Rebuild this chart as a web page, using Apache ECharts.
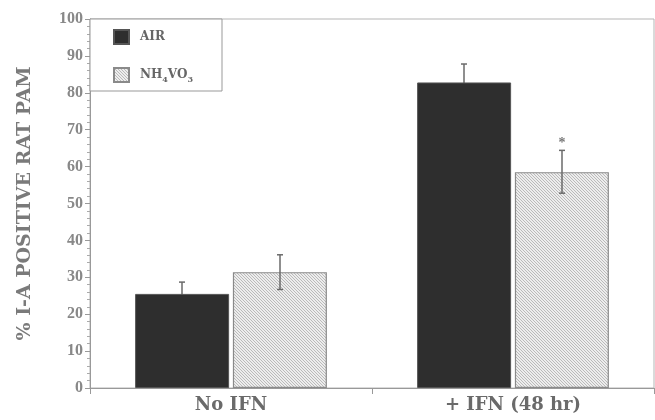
<!DOCTYPE html>
<html><head><meta charset="utf-8">
<script src="https://cdn.jsdelivr.net/npm/echarts@6/dist/echarts.min.js"></script>
<style>html,body{margin:0;padding:0;background:#fff}#c{width:655px;height:420px}</style>
</head><body><div id="c"></div>
<script>
var categories = ['No IFN', '+ IFN (48 hr)'];
var seriesNames = ['AIR', 'NH4VO3'];
var airValues = [25.5, 82.8];
var airUpper = [28.7, 87.8];
var airLower = [22.3, 77.8];
var vanValues = [31.4, 58.5];
var vanUpper = [36.1, 64.4];
var vanLower = [26.7, 52.8];
var significance = [null, 67];
var yTicks = [0, 10, 20, 30, 40, 50, 60, 70, 80, 90, 100];

var FONT = 'DejaVu Serif';
var TFONT = 'Liberation Serif';
function hatch() {
  var c = document.createElement('canvas');
  c.width = 3; c.height = 3;
  var g = c.getContext('2d');
  g.fillStyle = '#ededed'; g.fillRect(0, 0, 3, 3);
  g.strokeStyle = '#b4b4b4'; g.lineWidth = 0.9;
  g.beginPath();
  g.moveTo(-1, -1); g.lineTo(4, 4);
  g.moveTo(-1, 2); g.lineTo(1, 4);
  g.moveTo(2, -1); g.lineTo(4, 1);
  g.stroke();
  return {image: c, repeat: 'repeat'};
}
var hatchFill = hatch();

function errData(up, lo) {
  return categories.map(function (c, i) { return [i, up[i], lo[i]]; });
}
function errRender(offset) {
  return function (params, api) {
    var i = api.value(0);
    var top = api.coord([i, api.value(1)]);
    var bot = api.coord([i, api.value(2)]);
    var x = top[0] + offset;
    var st = {stroke: '#6a6a6a', lineWidth: 1.5};
    return {type: 'group', children: [
      {type: 'line', shape: {x1: x, y1: top[1], x2: x, y2: bot[1]}, style: st},
      {type: 'line', shape: {x1: x - 3, y1: top[1], x2: x + 3, y2: top[1]}, style: st},
      {type: 'line', shape: {x1: x - 3, y1: bot[1], x2: x + 3, y2: bot[1]}, style: st}
    ]};
  };
}

var chart = echarts.init(document.getElementById('c'));
chart.setOption({
  animation: false,
  backgroundColor: '#fff',
  grid: {left: 90, right: 1, top: 19, bottom: 32, show: true, borderColor: '#b5b5b5', borderWidth: 1},
  graphic: [{type: 'rect', shape: {x: 90, y: 19, width: 132, height: 72},
    style: {fill: '#fff', stroke: '#999', lineWidth: 1}, z: 5}],
  legend: {
    data: seriesNames, orient: 'vertical', left: 113, top: 29, itemGap: 22, padding: 0,
    itemWidth: 15, itemHeight: 14, icon: 'rect', z: 6,
    formatter: function (n) { return n === 'NH4VO3' ? '{a|NH}{s|4}{a|VO}{s|3}' : '{a|' + n + '}'; },
    textStyle: {padding: [0, 0, 0, 6], rich: {
      a: {fontFamily: FONT, fontSize: 12, fontWeight: 'bold', color: '#666'},
      s: {fontFamily: FONT, fontSize: 8, fontWeight: 'bold', color: '#666', padding: [9, 0, 0, 0]}
    }}
  },
  xAxis: {
    type: 'category', data: categories,
    axisLine: {lineStyle: {color: '#999'}},
    axisTick: {show: true, length: 6, lineStyle: {color: '#999'}},
    axisLabel: {fontFamily: FONT, fontSize: 18, fontWeight: 'bold', color: '#6a6a6a', margin: 8}
  },
  yAxis: {
    type: 'value', min: 0, max: 100, interval: 10,
    name: '% I-A POSITIVE RAT PAM', nameLocation: 'middle', nameGap: 55,
    nameTextStyle: {fontFamily: FONT, fontSize: 19, fontWeight: 'bold', color: '#7a7a7a'},
    axisLine: {show: true, lineStyle: {color: '#999'}},
    axisTick: {show: true, length: 5, lineStyle: {color: '#999'}},
    minorTick: {show: true, splitNumber: 5, length: 3, lineStyle: {color: '#aaa'}},
    splitLine: {show: false},
    axisLabel: {fontFamily: TFONT, fontSize: 16, fontWeight: 'bold', color: '#888', margin: 7,
      formatter: function (v) { return yTicks.indexOf(v) >= 0 ? String(v) : ''; }}
  },
  series: [
    {type: 'custom', name: 'errAir', data: errData(airUpper, airLower), renderItem: errRender(-49), z: 1},
    {type: 'bar', name: 'AIR', data: airValues, barWidth: 94, barGap: '4%',
      itemStyle: {color: '#2e2e2e', borderColor: '#555', borderWidth: 1}, z: 2},
    {type: 'bar', name: 'NH4VO3', data: vanValues, barWidth: 94,
      itemStyle: {color: hatchFill, borderColor: '#8a8a8a', borderWidth: 1.2}, z: 2},
    {type: 'custom', name: 'errVan', data: errData(vanUpper, vanLower), renderItem: errRender(49), z: 3},
    {type: 'custom', name: 'sig', z: 3,
      data: significance.map(function (v, i) { return v == null ? null : [i, v]; }).filter(Boolean),
      renderItem: function (params, api) {
        var p = api.coord([api.value(0), api.value(1)]);
        return {type: 'text', x: p[0] + 49, y: p[1] + 3,
          style: {text: '*', fill: '#777', font: 'bold 14px ' + TFONT, align: 'center', verticalAlign: 'middle'}};
      }}
  ]
});
</script></body></html>
